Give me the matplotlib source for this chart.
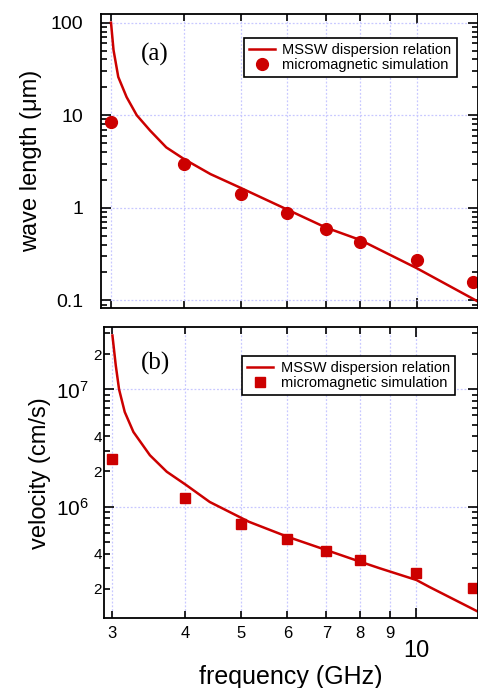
import matplotlib
matplotlib.use("Agg")
import matplotlib.pyplot as plt
from matplotlib.ticker import FixedLocator, FixedFormatter, NullFormatter

plt.rcParams['font.family'] = ['Liberation Sans', 'DejaVu Sans']
plt.rcParams['mathtext.fontset'] = 'custom'
plt.rcParams['mathtext.rm'] = 'Liberation Sans'

RED = '#cc0000'
GRID = '#c8c8ff'

# micromagnetic simulation points
sim_freq = [3, 4, 5, 6, 7, 8, 10, 12.5]
sim_wavelength = [8.5, 3.0, 1.40, 0.88, 0.59, 0.43, 0.27, 0.157]
sim_velocity = [2.54e6, 1.2e6, 7.08e5, 5.3e5, 4.2e5, 3.5e5, 2.72e5, 2.04e5]

# MSSW dispersion relation
curve_freq_a = [3.0, 3.03, 3.087, 3.19, 3.32, 3.5, 3.73, 4.0, 4.44, 4.99, 6.0, 7.0, 8.0, 10.0, 12.74]
curve_wavelength = [100, 50.5, 25.9, 15.7, 10.0, 6.82, 4.49, 3.36, 2.31, 1.65, 0.96, 0.61, 0.45, 0.223, 0.097]

curve_freq_b = [3.0, 3.04, 3.08, 3.15, 3.26, 3.48, 3.72, 4.02, 4.41, 4.96, 5.15, 6.0, 7.0, 8.0, 8.64,
                10.0, 10.52, 12.76]
curve_velocity = [2.88e7, 1.6e7, 1.0e7, 6.42e6, 4.34e6, 2.75e6, 1.99e6, 1.53e6, 1.1e6, 8.2e5, 7.46e5,
                  5.56e5, 4.28e5, 3.41e5, 3.0e5, 2.38e5, 2.08e5, 1.28e5]

x_minor = [3, 4, 5, 6, 7, 8, 9]
x_minor_labels = ['3', '4', '5', '6', '7', '8', '9']

a_major = [0.1, 1, 10, 100]
a_major_labels = ['0.1', '1', '10', '100']
a_minor = [m * d for d in [0.01, 0.1, 1, 10, 100] for m in range(2, 10)]

b_major = [1e6, 1e7]
b_major_labels = [r'$\mathregular{10^{6}}$', r'$\mathregular{10^{7}}$']
b_minor = [m * d for d in [1e5, 1e6, 1e7] for m in range(2, 10)]
b_minor_labels = ['2' if m == 2 else '4' if m == 4 else '' for d in [1e5, 1e6, 1e7] for m in range(2, 10)]

W, H = 478, 688
fig = plt.figure(figsize=(W / 100, H / 100), dpi=100)
ax1 = fig.add_axes([101 / W, 1 - 308.3 / H, (478 - 101) / W, (308.3 - 14) / H])
ax2 = fig.add_axes([104.3 / W, 1 - 618 / H, (478 - 104.3) / W, (618 - 327.3) / H])


def style(ax):
    ax.set_xscale('log')
    ax.set_yscale('log')
    for s in ax.spines.values():
        s.set_linewidth(1.3)
    ax.xaxis.set_major_locator(FixedLocator([10]))
    ax.xaxis.set_minor_locator(FixedLocator(x_minor))
    ax.tick_params(which='both', direction='in', top=True, right=True, width=1.2)
    ax.tick_params(axis='y', which='major', length=7)
    ax.tick_params(axis='y', which='minor', length=4)
    ax.tick_params(axis='x', which='major', length=7.5)
    ax.tick_params(axis='x', which='minor', length=5)
    ax.grid(True, axis='x', which='both', color=GRID, linestyle=(0, (1.5, 1.5)), linewidth=0.9)
    ax.grid(True, axis='y', which='major', color=GRID, linestyle=(0, (1.5, 1.5)), linewidth=0.9)
    ax.set_axisbelow(True)


# (a) wave length
style(ax1)
ax1.plot(curve_freq_a, curve_wavelength, color=RED, lw=1.8, label='MSSW dispersion relation')
ax1.plot(sim_freq, sim_wavelength, 'o', color=RED, ms=8.5, label='micromagnetic simulation', clip_on=False)
ax1.set_xlim(2.884, 12.74)
ax1.set_ylim(0.082, 124)
ax1.yaxis.set_major_locator(FixedLocator(a_major))
ax1.yaxis.set_major_formatter(FixedFormatter(a_major_labels))
ax1.yaxis.set_minor_locator(FixedLocator(a_minor))
ax1.yaxis.set_minor_formatter(NullFormatter())
ax1.xaxis.set_major_formatter(NullFormatter())
ax1.xaxis.set_minor_formatter(NullFormatter())
ax1.tick_params(axis='y', which='major', labelsize=14, pad=13)
ax1.set_ylabel('wave length (μm)', fontsize=17, labelpad=6)
ax1.text(0.143, 0.861, '(a)', transform=ax1.transAxes, fontsize=18, family='Liberation Serif',
         ha='center', va='center')
ax1.legend(loc='upper right', bbox_to_anchor=(0.9435, 0.9195), fontsize=10.5, frameon=True, fancybox=False,
           edgecolor='black', framealpha=1, borderpad=0.35, handlelength=1.8, handletextpad=0.5,
           labelspacing=0.1, borderaxespad=0).get_frame().set_linewidth(1.2)

# (b) velocity
style(ax2)
ax2.plot(curve_freq_b, curve_velocity, color=RED, lw=1.8, label='MSSW dispersion relation')
ax2.plot(sim_freq, sim_velocity, 's', color=RED, ms=7.5, label='micromagnetic simulation', clip_on=False)
ax2.set_xlim(2.905, 12.76)
ax2.set_ylim(1.13e5, 3.38e7)
ax2.yaxis.set_major_locator(FixedLocator(b_major))
ax2.yaxis.set_major_formatter(FixedFormatter(b_major_labels))
ax2.yaxis.set_minor_locator(FixedLocator(b_minor))
ax2.yaxis.set_minor_formatter(FixedFormatter(b_minor_labels))
ax2.tick_params(axis='y', which='major', labelsize=15, pad=11)
ax2.tick_params(axis='y', which='minor', labelsize=11, pad=1.5)
ax2.xaxis.set_major_formatter(FixedFormatter(['10']))
ax2.xaxis.set_minor_formatter(FixedFormatter(x_minor_labels))
ax2.tick_params(axis='x', which='major', labelsize=17, pad=16)
ax2.tick_params(axis='x', which='minor', labelsize=12, pad=6)
ax2.set_ylabel('velocity (cm/s)', fontsize=17, labelpad=4)
ax2.set_xlabel('frequency (GHz)', fontsize=18, labelpad=2)
ax2.text(0.136, 0.876, '(b)', transform=ax2.transAxes, fontsize=18, family='Liberation Serif',
         ha='center', va='center')
ax2.legend(loc='upper right', bbox_to_anchor=(0.9385, 0.9023), fontsize=10.5, frameon=True, fancybox=False,
           edgecolor='black', framealpha=1, borderpad=0.35, handlelength=1.8, handletextpad=0.5,
           labelspacing=0.1, borderaxespad=0).get_frame().set_linewidth(1.2)

fig.savefig('out.png', dpi=100)
